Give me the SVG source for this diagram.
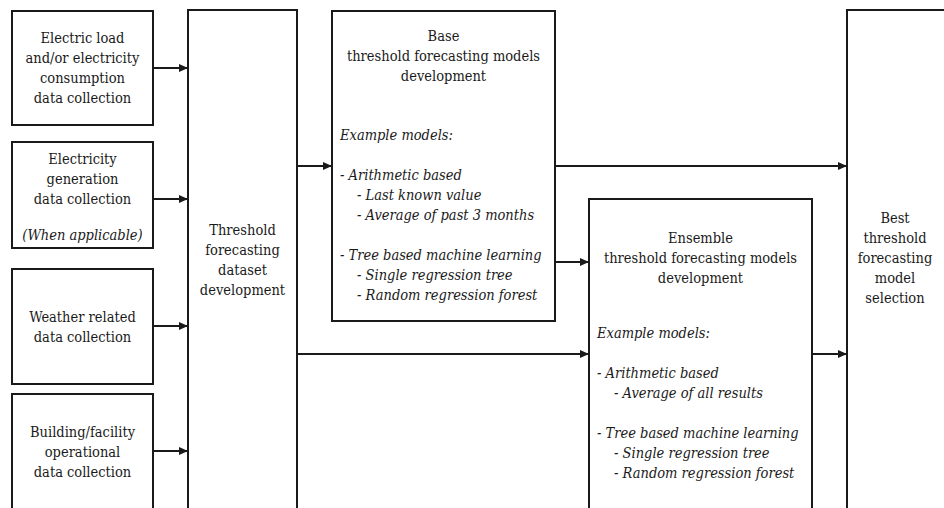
<svg xmlns="http://www.w3.org/2000/svg" width="944" height="508" viewBox="0 0 944 508">
<style>
.box{fill:#fff;stroke:#1a1a1a;stroke-width:2}
text{font-size:14.5px;fill:#1a1a1a;font-family:"DejaVu Serif Condensed","DejaVu Serif",serif;font-stretch:condensed}
.c{text-anchor:middle}
.i{font-style:italic}
.ln{stroke:#1a1a1a;stroke-width:2;fill:none}
</style>
<defs>
<marker id="ah" markerWidth="10" markerHeight="10" refX="9" refY="4" orient="auto" markerUnits="userSpaceOnUse">
<path d="M0,0 L9,4 L0,8 Z" fill="#1a1a1a"/>
</marker>
</defs>
<g id="connectors">
<line class="ln" x1="153" y1="68" x2="188" y2="68" marker-end="url(#ah)"/>
<line class="ln" x1="153" y1="199" x2="188" y2="199" marker-end="url(#ah)"/>
<line class="ln" x1="153" y1="326" x2="188" y2="326" marker-end="url(#ah)"/>
<line class="ln" x1="153" y1="451" x2="188" y2="451" marker-end="url(#ah)"/>
<line class="ln" x1="297" y1="166" x2="332" y2="166" marker-end="url(#ah)"/>
<line class="ln" x1="297" y1="354" x2="589" y2="354" marker-end="url(#ah)"/>
<line class="ln" x1="555" y1="166" x2="847" y2="166" marker-end="url(#ah)"/>
<line class="ln" x1="555" y1="262" x2="589" y2="262" marker-end="url(#ah)"/>
<line class="ln" x1="812" y1="354" x2="847" y2="354" marker-end="url(#ah)"/>
</g>
<g id="n1">
<rect class="box" x="12" y="11" width="141" height="114"/>
<text class="c" x="82.5" y="43">Electric load</text>
<text class="c" x="82.5" y="63">and/or electricity</text>
<text class="c" x="82.5" y="83">consumption</text>
<text class="c" x="82.5" y="103">data collection</text>
</g>
<g id="n2">
<rect class="box" x="12" y="142" width="141" height="106"/>
<text class="c" x="82.5" y="164">Electricity</text>
<text class="c" x="82.5" y="184">generation</text>
<text class="c" x="82.5" y="204">data collection</text>
<text class="c i" x="82.5" y="240">(When applicable)</text>
</g>
<g id="n3">
<rect class="box" x="12" y="269" width="141" height="115"/>
<text class="c" x="82.5" y="322">Weather related</text>
<text class="c" x="82.5" y="342">data collection</text>
</g>
<g id="n4">
<rect class="box" x="12" y="394" width="141" height="125"/>
<text class="c" x="82.5" y="437">Building/facility</text>
<text class="c" x="82.5" y="457">operational</text>
<text class="c" x="82.5" y="477">data collection</text>
</g>
<g id="n5">
<rect class="box" x="188" y="10" width="109" height="509"/>
<text class="c" x="242.5" y="235">Threshold</text>
<text class="c" x="242.5" y="255">forecasting</text>
<text class="c" x="242.5" y="275">dataset</text>
<text class="c" x="242.5" y="295">development</text>
</g>
<g id="n6">
<rect class="box" x="332" y="11" width="223" height="310"/>
<text class="c" x="443.5" y="41">Base</text>
<text class="c" x="443.5" y="61">threshold forecasting models</text>
<text class="c" x="443.5" y="81">development</text>
<text class="i" x="340" y="140">Example models:</text>
<text class="i" x="340" y="180">- Arithmetic based</text>
<text class="i" x="357" y="200">- Last known value</text>
<text class="i" x="357" y="220">- Average of past 3 months</text>
<text class="i" x="340" y="260">- Tree based machine learning</text>
<text class="i" x="357" y="280">- Single regression tree</text>
<text class="i" x="357" y="300">- Random regression forest</text>
</g>
<g id="n7">
<rect class="box" x="589" y="199" width="223" height="320"/>
<text class="c" x="700.5" y="243">Ensemble</text>
<text class="c" x="700.5" y="263">threshold forecasting models</text>
<text class="c" x="700.5" y="283">development</text>
<text class="i" x="597" y="338">Example models:</text>
<text class="i" x="597" y="378">- Arithmetic based</text>
<text class="i" x="614" y="398">- Average of all results</text>
<text class="i" x="597" y="438">- Tree based machine learning</text>
<text class="i" x="614" y="458">- Single regression tree</text>
<text class="i" x="614" y="478">- Random regression forest</text>
</g>
<g id="n8">
<rect class="box" x="847" y="10" width="110" height="509"/>
<text class="c" x="895" y="223">Best</text>
<text class="c" x="895" y="243">threshold</text>
<text class="c" x="895" y="263">forecasting</text>
<text class="c" x="895" y="283">model</text>
<text class="c" x="895" y="303">selection</text>
</g>
</svg>
